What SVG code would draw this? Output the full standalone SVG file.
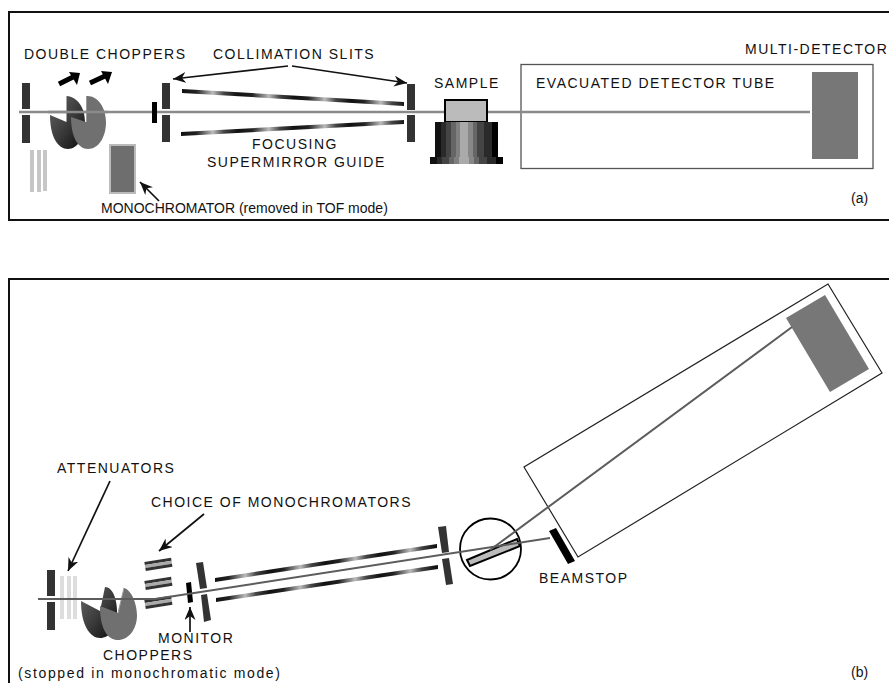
<svg xmlns="http://www.w3.org/2000/svg" width="889" height="683" viewBox="0 0 889 683">
<defs>
<style>
text{font-family:"Liberation Sans",Arial,sans-serif;font-size:14px;fill:#111;letter-spacing:1.5px}
.sm{font-size:14px;letter-spacing:0}
.frame{fill:none;stroke:#111;stroke-width:2}
.box{fill:none;stroke:#555;stroke-width:1.3}
.box2{fill:none;stroke:#222;stroke-width:1.2}
.beam{fill:none;stroke:#8a8a8a;stroke-width:2.6}
.beam2{fill:none;stroke:#5c5c5c;stroke-width:2}
.slit{fill:#333}
.att{fill:#c6c6c6}
.att2{fill:#ddd}
.det{fill:#777}
.arr{fill:none;stroke:#111;stroke-width:1.7;marker-end:url(#ah)}
.fat{fill:none;stroke:#000;stroke-width:5}
.edge{fill:none;stroke:#9a9a9a;stroke-width:1}
</style>
<marker id="ah" markerUnits="userSpaceOnUse" markerWidth="15" markerHeight="11" refX="13" refY="5.5" orient="auto"><path d="M0 0L13 5.5L0 11L4 5.5Z" fill="#111"/></marker>
<linearGradient id="ga1" gradientUnits="userSpaceOnUse" spreadMethod="repeat" x1="182" y1="0" x2="238" y2="0"><stop offset="0" stop-color="#111"/><stop offset=".25" stop-color="#222"/><stop offset=".55" stop-color="#bbb"/><stop offset=".75" stop-color="#444"/><stop offset="1" stop-color="#111"/></linearGradient>
<linearGradient id="gb1" gradientUnits="userSpaceOnUse" spreadMethod="repeat" x1="215" y1="0" x2="270" y2="0"><stop offset="0" stop-color="#111"/><stop offset=".25" stop-color="#222"/><stop offset=".55" stop-color="#bbb"/><stop offset=".75" stop-color="#444"/><stop offset="1" stop-color="#111"/></linearGradient>
<linearGradient id="dk" x1="0" y1="0" x2="1" y2="1"><stop offset="0" stop-color="#666"/><stop offset=".5" stop-color="#3c3c3c"/><stop offset="1" stop-color="#0a0a0a"/></linearGradient>
<linearGradient id="st" x1="0" y1="0" x2="1" y2="0">
<stop offset="0" stop-color="#111"/><stop offset=".1" stop-color="#111"/><stop offset=".1" stop-color="#2a2a2a"/><stop offset=".17" stop-color="#2a2a2a"/><stop offset=".17" stop-color="#444"/><stop offset=".26" stop-color="#444"/><stop offset=".26" stop-color="#666"/><stop offset=".33" stop-color="#666"/><stop offset=".33" stop-color="#808080"/><stop offset=".4" stop-color="#808080"/><stop offset=".4" stop-color="#aaa"/><stop offset=".53" stop-color="#aaa"/><stop offset=".53" stop-color="#888"/><stop offset=".6" stop-color="#888"/><stop offset=".6" stop-color="#666"/><stop offset=".67" stop-color="#666"/><stop offset=".67" stop-color="#444"/><stop offset=".78" stop-color="#444"/><stop offset=".78" stop-color="#2a2a2a"/><stop offset=".9" stop-color="#2a2a2a"/><stop offset=".9" stop-color="#000"/><stop offset="1" stop-color="#000"/></linearGradient>
</defs>
<rect width="889" height="683" fill="#fff"/>
<g id="panel-a">
<path class="frame" d="M890 12H9V220H890"/>
<g id="tube-a"><rect class="box" x="521" y="64.500" width="352" height="104"/></g>
<g id="detector-a"><rect class="det" x="812" y="72" width="46" height="87"/></g>
<g id="connectors-a"><path class="beam" d="M19 112H810"/></g>
<g id="slit-a1"><rect class="slit" x="22" y="83" width="8" height="26"/><rect class="slit" x="22" y="115" width="8" height="28"/></g>
<g id="attenuators-a"><rect class="att" x="30" y="150" width="4" height="42"/><rect class="att" x="37" y="150" width="4" height="42"/><rect class="att" x="43" y="150" width="4" height="41"/></g>
<g id="choppers-a">
<path fill="url(#dk)" d="M66.500 96C78 97 85 108 85 122C85 138 77 149 68 149C58 149 50 137 50 115L66.500 122Z"/>
<path fill="#707070" d="M86 96C98 95 106 108 106 122C106 138 98 149 88 149C78 149 71 137 71 117L86 122Z"/>
<path class="edge" d="M86.500 96V122"/>
<path class="beam" d="M48 112H108"/>
</g>
<g id="slit-a2"><rect fill="#000" x="152" y="102" width="5" height="21"/><rect class="slit" x="162" y="83" width="8" height="26"/><rect class="slit" x="162" y="115" width="8" height="27"/></g>
<g id="guide-a"><path fill="url(#ga1)" d="M182 89L404 102V106L182 93Z"/><path fill="url(#ga1)" d="M181 132L404 120V124L181 136Z"/></g>
<g id="slit-a3"><rect class="slit" x="407" y="84" width="8" height="26"/><rect class="slit" x="407" y="115" width="8" height="27"/></g>
<g id="sample-a"><rect fill="#bbb" stroke="#000" stroke-width="2" x="445" y="100" width="42" height="22"/><rect fill="url(#st)" x="435" y="122" width="63" height="35"/><rect fill="url(#st)" x="430" y="157" width="73" height="7"/></g>
<g id="mono-a"><rect fill="#6e6e6e" stroke="#bbb" stroke-width="2" x="110" y="145" width="25" height="48"/></g>
<g id="arrows-a">
<path class="fat" d="M59 84L73 77"/><path d="M80 73L69 72L77 85Z" fill="#000"/>
<path class="fat" d="M90 83L105 76"/><path d="M112 72L101 71L108 84Z" fill="#000"/>
<path class="arr" d="M288 66L173 79"/><path class="arr" d="M292 66L407 83"/>
<path class="arr" d="M159 201L140 182"/>
</g>
<text x="24" y="59">DOUBLE CHOPPERS</text>
<text x="213" y="59">COLLIMATION SLITS</text>
<text x="434" y="88">SAMPLE</text>
<text x="536" y="88">EVACUATED DETECTOR TUBE</text>
<text x="745" y="54">MULTI-DETECTOR</text>
<text x="252" y="149">FOCUSING</text>
<text x="207" y="167">SUPERMIRROR GUIDE</text>
<text x="101" y="213" class="sm">MONOCHROMATOR (removed in TOF mode)</text>
<text x="851" y="203" class="sm">(a)</text>
</g>
<g id="panel-b">
<path class="frame" d="M890 279H9V684"/>
<g id="tube-b"><path class="box2" d="M828 284L882 373L578 557L524 467Z"/></g>
<g id="detector-b"><path class="det" d="M786 318L825 295L869 369L830 392Z"/></g>
<g id="slit-b1"><rect class="slit" x="47" y="570" width="8" height="26"/><rect class="slit" x="47" y="602" width="8" height="28"/></g>
<g id="attenuators-b"><rect class="att2" x="60" y="576" width="4" height="43"/><rect class="att2" x="67" y="576" width="4" height="43"/><rect class="att2" x="73" y="576" width="4" height="43"/></g>
<g id="choppers-b">
<path fill="url(#dk)" d="M105 587C113 587 117 600 117 612C117 628 110 638 100 638C90 638 81 625 81 601L100 611L105 587Z"/>
<path fill="#707070" d="M124 588C132 590 137 605 137 615C137 630 128 640 118 640C108 640 100 630 100 606L118 613Z"/>
<path class="edge" d="M124 588L118 613"/>
</g>
<g id="mono-b">
<g transform="rotate(-9 158 565)"><rect x="145" y="560" width="27" height="3" fill="#333"/><rect x="145" y="563" width="27" height="3" fill="#aaa"/><rect x="145" y="566" width="27" height="3" fill="#333"/></g>
<g transform="rotate(-9 158 584)"><rect x="145" y="579" width="27" height="3" fill="#333"/><rect x="145" y="582" width="27" height="3" fill="#aaa"/><rect x="145" y="585" width="27" height="3" fill="#333"/></g>
<g transform="rotate(-9 158 603)"><rect x="145" y="598" width="27" height="3" fill="#333"/><rect x="145" y="601" width="27" height="3" fill="#aaa"/><rect x="145" y="604" width="27" height="3" fill="#333"/></g>
</g>
<g id="monitor-b"><path d="M186 583L191 582L193 602L188 603Z" fill="#000"/></g>
<g id="slit-b2"><path class="slit" d="M196 563L203 562L207 588L200 589Z"/><path class="slit" d="M201 595L207 594L211 620L204 622Z"/></g>
<g id="guide-b"><path fill="url(#gb1)" d="M215 578L437 544V548L215 582Z"/><path fill="url(#gb1)" d="M216 598L438 565V569L216 602Z"/></g>
<g id="slit-b3"><path class="slit" d="M438 527L446 526L449 552L442 553Z"/><path class="slit" d="M442 559L449 558L453 584L446 585Z"/></g>
<g id="sample-b"><circle cx="490.5" cy="549" r="30.5" fill="none" stroke="#000" stroke-width="1.8"/><path fill="#bbb" stroke="#000" stroke-width="2" d="M467 560L517 539L520 546L470 566Z"/></g>
<g id="beamstop-b"><path fill="#000" d="M549 531L556 528L575 561L568 564Z"/></g>
<g id="connectors-b"><path class="beam2" d="M38 599H155L550 538"/><path class="beam2" d="M490 550L792 327"/></g>
<g id="arrows-b"><path class="arr" d="M110 481L68 571"/><path class="arr" d="M204 514L159 551"/><path class="arr" d="M190 632V607"/></g>
<text x="57" y="473">ATTENUATORS</text>
<text x="151" y="507">CHOICE OF MONOCHROMATORS</text>
<text x="539" y="583">BEAMSTOP</text>
<text x="158" y="643">MONITOR</text>
<text x="103" y="660">CHOPPERS</text>
<text x="18" y="677.500" style="letter-spacing:1.65px">(stopped in monochromatic mode)</text>
<text x="851" y="677" class="sm">(b)</text>
</g>
</svg>
